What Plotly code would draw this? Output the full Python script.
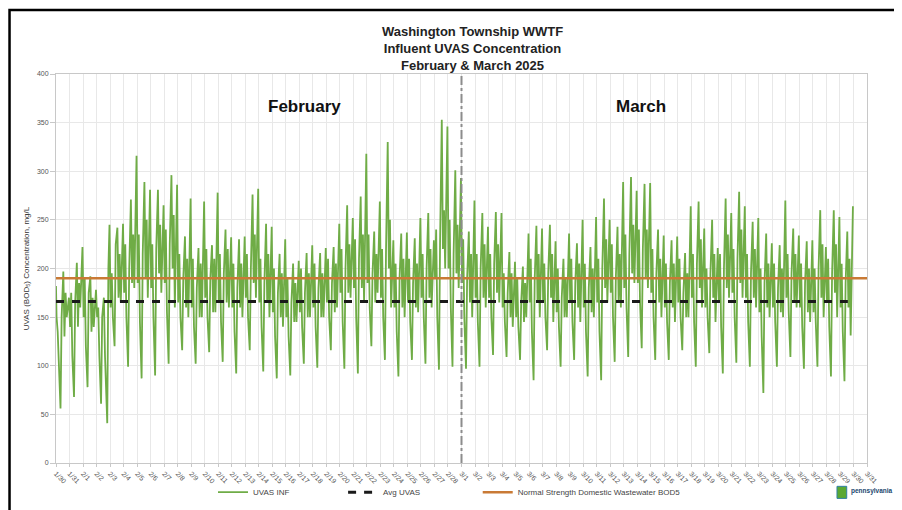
import pandas as pd
import plotly.graph_objects as go

# ---------------- data (read/estimated from the reference picture) ----------------
first_day = "2025-01-30"
start_value = 182

# one value per day (1/30 .. 3/29) at fixed hours of the daily cycle
h01 = [150, 140, 150, 150, 160, 175, 185, 180, 185, 165,
       160, 170, 165, 160, 170, 165, 155, 150, 155, 160,
       165, 175, 180, 185, 170, 160, 165, 170, 190, 200,
       185, 170, 170, 160, 150, 165, 165, 155, 165, 160,
       165, 175, 180, 185, 175, 160, 165, 170, 160, 165,
       175, 170, 155, 160, 170, 160, 155, 165, 160]
h03 = [135, 175, 190, 160, 195, 225, 235, 225, 240, 215,
       210, 220, 215, 205, 215, 210, 200, 190, 200, 205,
       210, 220, 230, 235, 220, 205, 210, 215, 240, 250,
       230, 215, 215, 195, 190, 210, 205, 200, 210, 205,
       210, 225, 235, 240, 220, 205, 210, 215, 200, 215,
       220, 215, 200, 205, 215, 205, 200, 210, 205]
h05 = [95, 110, 120, 110, 150, 150, 145, 150, 155, 150,
       140, 150, 145, 135, 150, 140, 130, 130, 140, 140,
       150, 145, 150, 160, 150, 135, 145, 150, 150, 160,
       150, 145, 150, 145, 140, 135, 150, 140, 145, 135,
       135, 150, 160, 165, 150, 145, 150, 145, 150, 140,
       150, 145, 130, 145, 155, 140, 145, 140, 135]
low_8h = [56, 68, 78, 61, 120, 99, 87, 90, 102, 116,
          102, 114, 104, 92, 116, 94, 87, 90, 102, 98,
          116, 97, 92, 120, 106, 89, 106, 102, 96, 99,
          97, 99, 111, 109, 106, 85, 116, 99, 106, 89,
          85, 104, 109, 118, 106, 106, 116, 99, 113, 92,
          103, 99, 72, 99, 109, 97, 99, 89, 84]
h10 = [150, 165, 175, 150, 225, 200, 215, 220, 225, 190,
       180, 190, 195, 180, 200, 185, 175, 165, 175, 180,
       185, 200, 210, 195, 220, 190, 185, 200, 230, 215,
       190, 200, 205, 175, 165, 190, 195, 170, 185, 180,
       200, 190, 215, 220, 195, 185, 175, 205, 195, 200,
       210, 195, 185, 180, 195, 185, 200, 195, 185]
peak_13h = [197, 206, 192, 170, 242, 271, 289, 281, 296, 233,
            221, 224, 240, 230, 276, 246, 215, 205, 216, 216,
            222, 265, 274, 238, 330, 236, 231, 257, 353, 301,
            238, 257, 258, 217, 202, 244, 245, 210, 226, 222,
            272, 243, 294, 287, 240, 229, 216, 269, 250, 272,
            279, 248, 236, 224, 241, 228, 260, 260, 238]
h15 = [130, 140, 135, 110, 170, 185, 190, 195, 200, 160,
       150, 155, 165, 160, 185, 165, 150, 145, 150, 150,
       155, 175, 180, 165, 200, 160, 160, 170, 220, 195,
       165, 170, 175, 150, 145, 165, 170, 150, 160, 155,
       180, 165, 195, 190, 165, 160, 150, 180, 170, 180,
       185, 170, 160, 155, 165, 155, 170, 175, 160]
h17 = [175, 185, 170, 60, 215, 235, 250, 245, 255, 210,
       205, 210, 220, 205, 235, 215, 195, 185, 195, 195,
       205, 225, 235, 215, 250, 210, 205, 220, 260, 245,
       215, 225, 225, 195, 185, 215, 215, 190, 205, 200,
       230, 215, 245, 240, 210, 205, 195, 230, 215, 235,
       240, 220, 205, 200, 215, 200, 225, 225, 210]
dip_19h = [150, 160, 140, 41, 165, 180, 170, 175, 160, 150,
           150, 155, 160, 150, 170, 150, 140, 145, 150, 150,
           160, 170, 165, 175, 160, 150, 155, 160, 200, 180,
           150, 160, 165, 140, 150, 150, 145, 150, 145, 150,
           165, 160, 185, 180, 150, 145, 150, 160, 145, 170,
           170, 160, 150, 150, 160, 145, 150, 150, 131]
h21 = [160, 190, 165, 200, 215, 240, 240, 230, 245, 225,
       215, 225, 205, 205, 230, 210, 195, 180, 195, 195,
       210, 220, 245, 225, 200, 205, 215, 205, 270, 250,
       225, 210, 220, 185, 200, 210, 200, 205, 215, 215,
       215, 235, 240, 245, 205, 200, 220, 210, 195, 220,
       225, 215, 195, 225, 205, 200, 195, 215, 200]
peak_23h = [170, 222, 178, 245, 246, 316, 281, 265, 286, 272,
            269, 278, 232, 233, 282, 243, 230, 208, 224, 221,
            246, 252, 318, 269, 229, 237, 252, 229, 346, 293,
            270, 243, 257, 207, 236, 241, 228, 236, 250, 253,
            250, 289, 280, 288, 234, 233, 264, 241, 221, 257,
            264, 252, 226, 270, 234, 229, 222, 253, 264]

avg_uvas = 166
avg_span = ["2025-01-30 00:00", "2025-03-29 14:00"]
normal_bod5 = 190
normal_span = ["2025-01-30", "2025-03-31"]
month_split = "2025-03-01"
month_labels = ["February", "March"]

tick_dates = pd.date_range("2025-01-30", "2025-03-31", freq="D")
tick_labels = [f"{d.month}/{d.day}" for d in tick_dates]
y_ticks = [0, 50, 100, 150, 200, 250, 300, 350, 400]

# ---------------- build series ----------------
slots = ((1, h01), (3, h03), (5, h05), (8, low_8h), (10, h10), (13, peak_13h),
         (15, h15), (17, h17), (19, dip_19h), (21, h21), (23, peak_23h))
days = pd.date_range(first_day, periods=len(low_8h), freq="D")
xs = [pd.Timestamp(first_day)]
ys = [start_value]
for i, day in enumerate(days):
    for h, arr in slots:
        xs.append(day + pd.Timedelta(hours=h))
        ys.append(arr[i])

GREEN = "#6fac46"
ORANGE = "#c97a35"
FONT = "Liberation Sans, Arial, sans-serif"

fig = go.Figure()
fig.add_trace(go.Scatter(x=xs, y=ys, mode="lines", name="UVAS INF", legend="legend",
                         line=dict(color=GREEN, width=1.8)))
fig.add_trace(go.Scatter(x=avg_span, y=[avg_uvas, avg_uvas], mode="lines", name="Avg UVAS",
                         legend="legend2",
                         line=dict(color="#1a1a1a", width=3, dash="8px,8px")))
fig.add_trace(go.Scatter(x=normal_span, y=[normal_bod5, normal_bod5], mode="lines",
                         name="Normal Strength Domestic Wastewater BOD5", legend="legend3",
                         line=dict(color=ORANGE, width=2.5)))

leg_common = dict(orientation="h", xanchor="left", y=-0.075, yanchor="middle",
                  font=dict(size=8, color="#444"), bgcolor="rgba(0,0,0,0)")

fig.update_layout(
    width=902, height=510,
    margin=dict(l=48, r=43, t=66, b=55, autoexpand=False),
    paper_bgcolor="white", plot_bgcolor="white",
    font=dict(family=FONT, color="#333"),
    title=dict(text="<b>Washington Township WWTF<br>Influent UVAS Concentration<br>February & March 2025</b>",
               x=0.515, xanchor="center", xref="container",
               y=0.945, yanchor="middle", yref="container",
               font=dict(size=13, color="#222", family=FONT)),
    legend=dict(x=0.1936, **leg_common),
    legend2=dict(x=0.354, **leg_common),
    legend3=dict(x=0.520, **leg_common),
    showlegend=True,
)

fig.update_xaxes(type="date", range=["2025-01-30", "2025-03-31"], automargin=False,
                 tickmode="array", tickvals=list(tick_dates), ticktext=tick_labels,
                 tickangle=45, tickfont=dict(size=7, color="#555"),
                 showgrid=True, gridcolor="#e8e8e8", gridwidth=1,
                 showline=True, linecolor="#c8c8c8", mirror=True,
                 ticks="outside", ticklen=3, tickcolor="#c8c8c8", zeroline=False)
fig.update_yaxes(range=[0, 400], tickvals=y_ticks, automargin=False,
                 tickfont=dict(size=7, color="#555"),
                 title=dict(text="UVAS (BOD<sub>5</sub>) Concentration, mg/L",
                            font=dict(size=8, color="#333"), standoff=6),
                 showgrid=True, gridcolor="#e8e8e8", gridwidth=1,
                 showline=True, linecolor="#c8c8c8", mirror=True,
                 ticks="outside", ticklen=5, tickcolor="#c8c8c8", zeroline=False)

# month separator
fig.add_shape(type="line", xref="x", yref="paper", x0=month_split, x1=month_split, y0=0, y1=1,
              line=dict(color="#8c8c8c", width=2, dash="dashdot"))

fig.add_annotation(text=f"<b>{month_labels[0]}</b>", xref="paper", yref="paper",
                   x=0.259, y=0.946, showarrow=False, font=dict(size=17, color="#111"))
fig.add_annotation(text=f"<b>{month_labels[1]}</b>", xref="paper", yref="paper",
                   x=0.755, y=0.946, showarrow=False, font=dict(size=17, color="#111"))

# logo-ish mark bottom right (green keystone block + wordmark)
fig.add_shape(type="rect", xref="paper", yref="paper", x0=0.963, x1=0.975, y0=-0.091, y1=-0.06,
              line=dict(color="#2f7fa3", width=1), fillcolor="#5aa832")
fig.add_annotation(text="<b>pennsylvania</b>", xref="paper", yref="paper", x=0.9775, y=-0.072,
                   xanchor="left", yanchor="middle",
                   showarrow=False, font=dict(size=6.5, color="#20466e"))

# outer frame of the screenshot
fig.add_shape(type="rect", xref="paper", yref="paper",
              x0=-0.0573, x1=1.07, y0=-0.16, y1=1.1645,
              line=dict(color="black", width=2.5), fillcolor="rgba(0,0,0,0)", layer="above")

fig.write_html("out.html")
